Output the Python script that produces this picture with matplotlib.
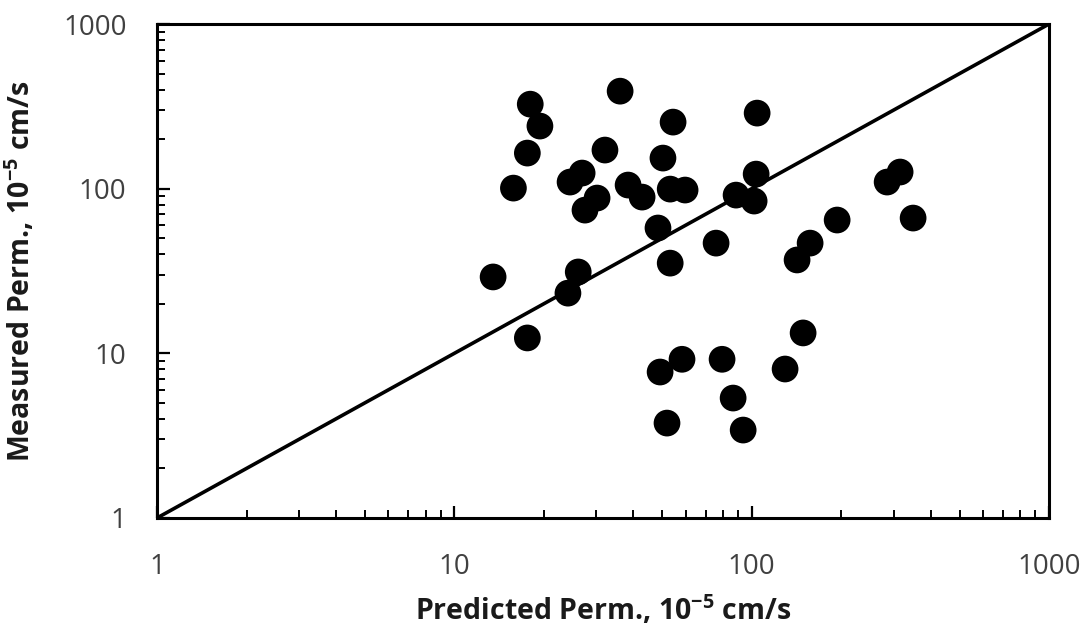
import matplotlib
matplotlib.use("Agg")
import matplotlib.pyplot as plt
from matplotlib.ticker import LogLocator, FixedLocator, NullFormatter

plt.rcParams['font.family'] = ['Open Sans', 'DejaVu Sans']
plt.rcParams['mathtext.default'] = 'regular'

# predicted vs measured permeability, 10^-5 cm/s
predicted = [18.0, 19.4, 17.6, 15.8, 13.5, 17.6, 36.1, 32.1, 24.5, 26.9,
             27.5, 30.2, 38.4, 42.8, 54.4, 50.3, 53.2, 59.7, 48.4, 53.2,
             26.1, 24.1, 75.9, 104.3, 103.5, 88.6, 101.9, 193.8, 157.2, 142.1,
             315.6, 285.4, 349.0, 49.2, 58.3, 79.5, 51.9, 86.6, 93.6, 129.5,
             148.9]
measured = [326, 240, 164.5, 100.8, 29.1, 12.4, 391, 171.6, 109.7, 124.4,
            74.1, 87.7, 105.2, 88.9, 253.7, 153.4, 99.4, 98.1, 57.7, 35.3,
            31.2, 23.2, 46.7, 287.7, 122.6, 91.4, 84.1, 64.5, 46.7, 36.9,
            126.2, 109.7, 66.3, 7.7, 9.2, 9.2, 3.77, 5.35, 3.42, 8.03,
            13.3]
line_ends = [1, 1000]
ticks = [1, 10, 100, 1000]
tick_labels = ['1', '10', '100', '1000']

fig = plt.figure(figsize=(10.88, 6.32), dpi=100)
ax = fig.add_axes([0.1443, 0.1804, 0.8199, 0.7816])

ax.plot(line_ends, line_ends, color='black', lw=2.6, zorder=2, solid_capstyle='butt')
ax.scatter(predicted, measured, s=370, color='black', edgecolors='none', zorder=3)

ax.set_xscale('log')
ax.set_yscale('log')
ax.set_xlim(1, 1000)
ax.set_ylim(1, 1000)

for sp in ax.spines.values():
    sp.set_linewidth(2.2)
    sp.set_color('black')

ax.xaxis.set_major_locator(FixedLocator(ticks))
ax.yaxis.set_major_locator(FixedLocator(ticks))
ax.set_xticklabels(tick_labels)
ax.set_yticklabels(tick_labels)
ax.xaxis.set_minor_locator(LogLocator(base=10, subs=range(2, 10)))
ax.yaxis.set_minor_locator(LogLocator(base=10, subs=range(2, 10)))
ax.xaxis.set_minor_formatter(NullFormatter())
ax.yaxis.set_minor_formatter(NullFormatter())

ax.tick_params(axis='x', which='major', direction='in', length=9, width=1.6,
               pad=25, labelsize=20, labelcolor='#404040', top=False)
ax.tick_params(axis='y', which='major', direction='in', length=9, width=1.6,
               pad=22, labelsize=20, labelcolor='#404040', right=False)
ax.tick_params(which='minor', direction='in', length=6, width=1.4,
               top=False, right=False)

ax.set_xlabel('Predicted Perm., 10$^{-5}$ cm/s', fontsize=20.5, fontweight='bold',
              color='#1a1a1a')
ax.set_ylabel('Measured Perm., 10$^{-5}$ cm/s', fontsize=20.5, fontweight='bold',
              color='#1a1a1a')
ax.xaxis.set_label_coords(0.5, -0.152)
ax.yaxis.set_label_coords(-0.135, 0.5)

fig.savefig('out.png', dpi=100, facecolor='white')
